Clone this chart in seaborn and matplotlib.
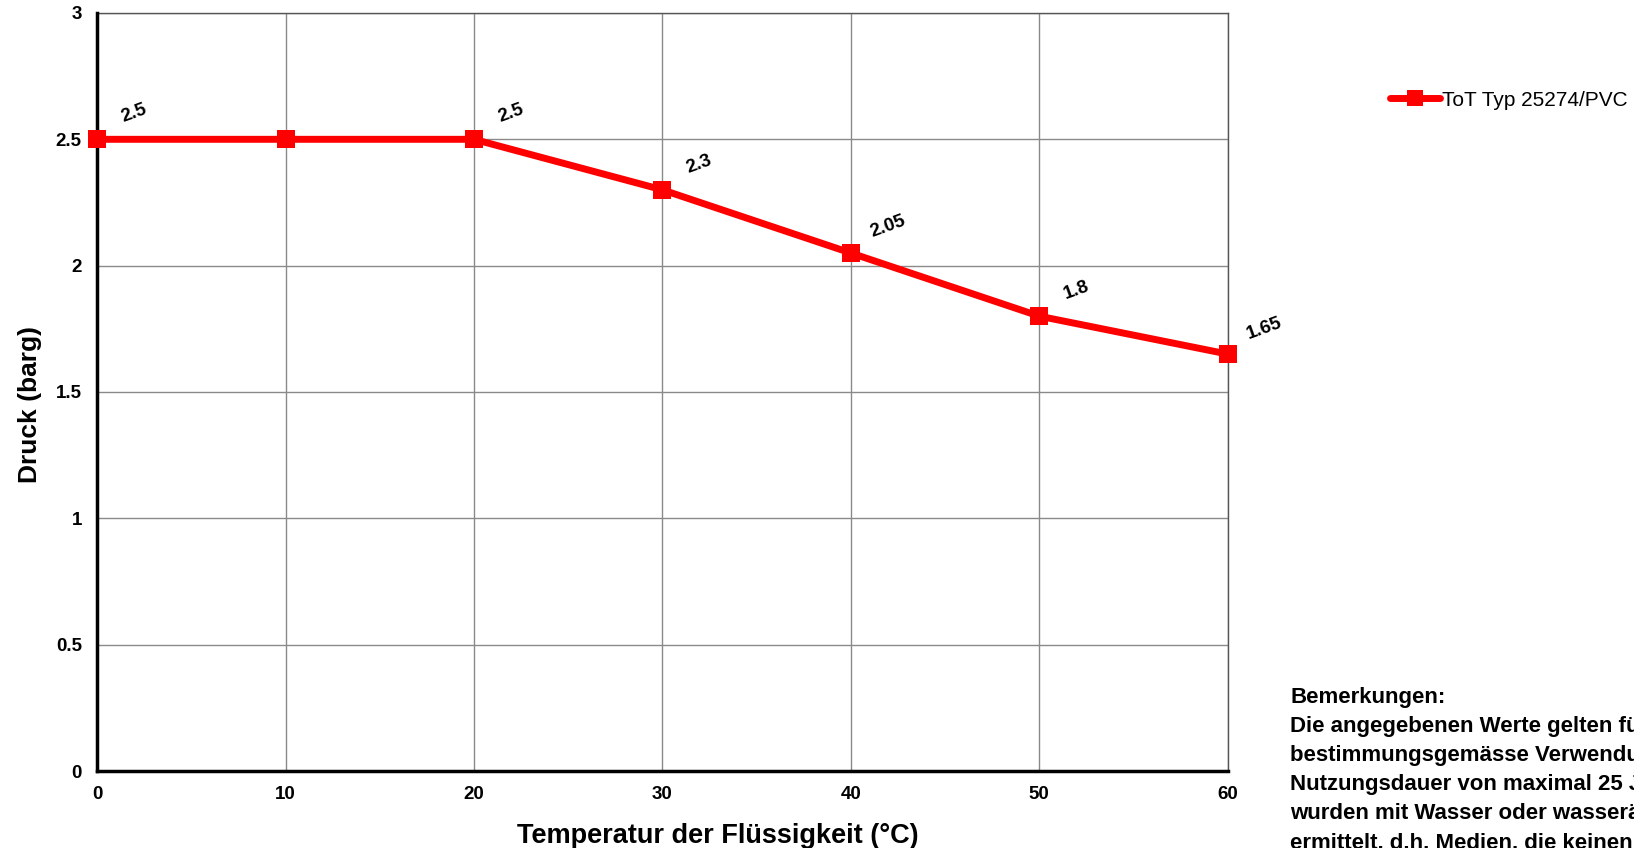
import numpy as np
import pandas as pd
import matplotlib
matplotlib.use("Agg")
import matplotlib.pyplot as plt
import seaborn as sns

# ---- data ----
temperatur = [0, 10, 20, 30, 40, 50, 60]
druck = [2.5, 2.5, 2.5, 2.3, 2.05, 1.8, 1.65]
# only these points carry a value label in the original
label_x = [0, 20, 30, 40, 50, 60]
label_text = ["2.5", "2.5", "2.3", "2.05", "1.8", "1.65"]
serie_name = "ToT Typ 25274/PVC"
x_ticks = [0, 10, 20, 30, 40, 50, 60]
y_ticks = [0, 0.5, 1, 1.5, 2, 2.5, 3]
y_tick_labels = ["0", "0.5", "1", "1.5", "2", "2.5", "3"]
bemerkungen = [
    "Bemerkungen:",
    "Die angegebenen Werte gelten für die",
    "bestimmungsgemässe Verwendung bei einer",
    "Nutzungsdauer von maximal 25 Jahren. Sie",
    "wurden mit Wasser oder wasserähnlichen Medien",
    "ermittelt, d.h. Medien, die keinen schädlichen",
]

sns.set_theme(style="white")
plt.rcParams['font.family'] = ['Liberation Sans', 'DejaVu Sans']
plt.rcParams['text.color'] = 'black'
plt.rcParams['axes.labelcolor'] = 'black'
plt.rcParams['xtick.color'] = 'black'
plt.rcParams['ytick.color'] = 'black'

df = pd.DataFrame({"temperatur": temperatur, "druck": druck, "serie": serie_name})

fig = plt.figure(figsize=(16.34, 8.48), dpi=100)
ax = fig.add_axes([0.0594, 0.0908, 0.692, 0.8939])

sns.lineplot(data=df, x="temperatur", y="druck", hue="serie", palette=["#ff0000"],
             marker="s", markersize=13, markeredgewidth=0, linewidth=5,
             ax=ax, legend=False)
for ln in ax.lines:
    ln.set_clip_on(False)
    ln.set_zorder(5)

ax.set_xlim(0, 60)
ax.set_ylim(0, 3)
ax.set_xticks(x_ticks)
ax.set_yticks(y_ticks)
ax.set_yticklabels(y_tick_labels)

ax.grid(True, color="#8a8a8a", linewidth=1.0)
ax.set_axisbelow(True)
for side in ["top", "right"]:
    ax.spines[side].set_color("#555555")
    ax.spines[side].set_linewidth(1.0)
for side in ["left", "bottom"]:
    ax.spines[side].set_color("black")
    ax.spines[side].set_linewidth(2.5)
    ax.spines[side].set_zorder(4)

ax.tick_params(axis="both", which="major", direction="out", length=4, width=2,
               color="black", labelcolor="black", labelsize=13.5, pad=7)
for lab in ax.get_xticklabels() + ax.get_yticklabels():
    lab.set_fontweight("bold")

# the original's axis titles sit a little off-centre
ax.set_xlabel("Temperatur der Flüssigkeit (°C)", fontsize=19.5, fontweight="bold",
              labelpad=14, x=0.549)
ax.set_ylabel("Druck (barg)", fontsize=19, fontweight="bold", labelpad=10, y=0.483)

# value labels, rotated like in the original
for xv, txt in zip(label_x, label_text):
    yv = druck[temperatur.index(xv)]
    ax.annotate(txt, (xv, yv), xytext=(37, 26), textcoords="offset pixels",
                ha="center", va="center", rotation=20, fontsize=13.5,
                fontweight="bold", color="black", annotation_clip=False)

# legend (manual handle so it matches the thick line + square marker)
handle = plt.Line2D([], [], color="#ff0000", linewidth=5, marker="s",
                    markersize=11, markeredgewidth=0)
fig.legend([handle], [serie_name], loc="center left",
           bbox_to_anchor=(1390 / 1634, 1 - 100 / 848), frameon=False,
           fontsize=15, handlelength=2.4, handletextpad=0.1, borderpad=0,
           borderaxespad=0, labelcolor="black")

# remarks text at the lower right, cut off by the figure edge as in the original
fig.text(1290 / 1634, 1 - 687 / 848, "\n".join(bemerkungen), ha="left", va="top",
         fontsize=16, fontweight="bold", linespacing=1.5, color="black")

fig.savefig("out.png", dpi=100)
